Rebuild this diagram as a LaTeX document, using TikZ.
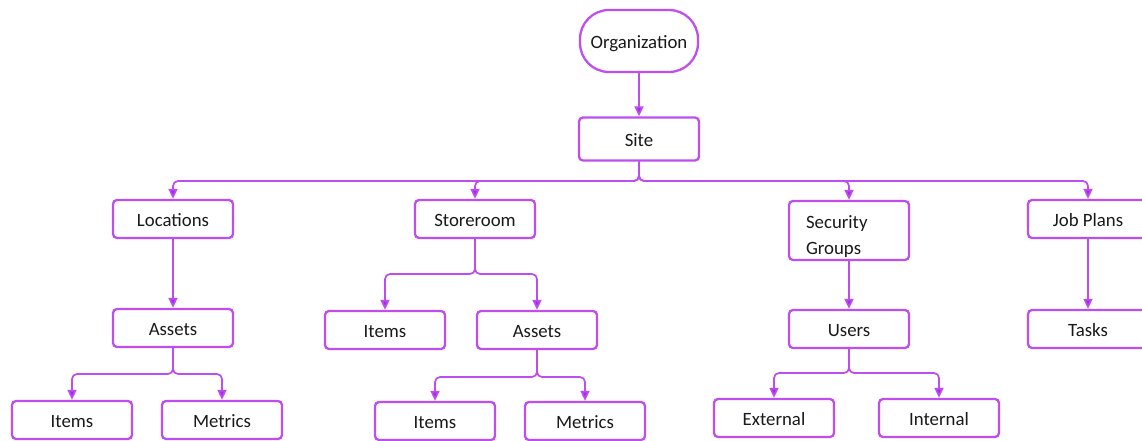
\documentclass[tikz,border=0pt]{standalone}
\usepackage{fontspec}
\setmainfont{Carlito}
\usepackage{xcolor}
\usetikzlibrary{arrows.meta,positioning}
\definecolor{boxviolet}{RGB}{192,78,238}
\definecolor{tipviolet}{RGB}{165,40,240}
\definecolor{inktext}{RGB}{25,25,25}
\tikzset{
  orgarr/.style={-{Triangle[length=10pt,width=9pt,fill=tipviolet]}, line width=1.7pt, draw=boxviolet!95!tipviolet, rounded corners=5pt},
  orgnode/.style={draw=boxviolet, line width=2.3pt, rounded corners=4pt, align=center, inner sep=2pt, text=inktext},
}
\begin{document}
\begin{tikzpicture}[
  x=1pt, y=-1pt,
  font=\fontsize{18.8}{26}\selectfont,
  st/.style={orgnode, minimum width=120pt, minimum height=38pt, text height=17pt, text depth=2pt},
]
  \useasboundingbox (0,0) rectangle (1142,440);
  % top of the tree
  \node[orgnode, rounded corners=29pt, minimum width=118pt, minimum height=62pt, text height=17pt, text depth=2pt] (org) at (639,41) {Organization};
  \node[st, minimum height=43pt] (site) at (639,139) {Site};
  \coordinate (bus) at (639,181);
  % second level
  \node[st] (loc) at (173,219) {Locations};
  \node[st] (store) at (475,219) {Storeroom};
  \node[st, minimum height=59pt, text height=, text depth=] (secgrp) at (849,230.5) {};
  \node[align=left, anchor=west, text=inktext, inner sep=0pt] (secgrptext) at ([xshift=18pt, yshift=-6pt]secgrp.west) {Security\\Groups};
  \node[st] (jobs) at (1088,219) {Job Plans};
  % third level
  \node[st] (locassets) at (173,328) {Assets};
  \node[st] (storeitems) at (385,330) {Items};
  \node[st] (storeassets) at (537,330) {Assets};
  \node[st] (users) at (849,329) {Users};
  \node[st] (tasks) at (1088,329) {Tasks};
  % leaves
  \node[st] (locitems) at (72,420) {Items};
  \node[st] (locmetrics) at (222,420) {Metrics};
  \node[st] (storeitems2) at (435,421) {Items};
  \node[st] (storemetrics) at (585,421) {Metrics};
  \node[st] (external) at (774,418) {External};
  \node[st] (internal) at (939,418) {Internal};
  % connectors
  \draw[orgarr] (org) -- (site);
  \foreach \kid in {loc,store,secgrp,jobs}
    \draw[orgarr] (site.south) -- (bus) -| (\kid.north);
  \draw[orgarr] (loc) -- (locassets);
  \draw[orgarr] (secgrp) -- (users);
  \draw[orgarr] (jobs) -- (tasks);
  \coordinate (storefork) at (475,274);
  \coordinate (locfork) at (173,374);
  \coordinate (assetsfork) at (537,377);
  \coordinate (usersfork) at (849,373);
  \foreach \kid in {storeitems,storeassets}
    \draw[orgarr] (store.south) -- (storefork) -| (\kid.north);
  \foreach \kid in {locitems,locmetrics}
    \draw[orgarr] (locassets.south) -- (locfork) -| (\kid.north);
  \foreach \kid in {storeitems2,storemetrics}
    \draw[orgarr] (storeassets.south) -- (assetsfork) -| (\kid.north);
  \foreach \kid in {external,internal}
    \draw[orgarr] (users.south) -- (usersfork) -| (\kid.north);
\end{tikzpicture}
\end{document}
